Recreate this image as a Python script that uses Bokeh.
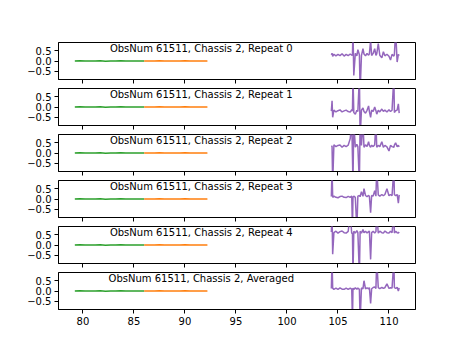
from bokeh.plotting import figure
from bokeh.layouts import column
from bokeh.models import Range1d, FixedTicker, Label
from bokeh.embed import file_html
from bokeh.resources import INLINE

# ---- data ----
green_x = [79.2, 79.7, 80.2, 80.7, 81.2, 81.7, 82.2, 82.7, 83.2, 83.7, 84.2, 84.7, 85.2, 85.7, 86.0]
green_y = [0.0, 0.01, -0.005, 0.005, 0.0, 0.01, -0.01, 0.005, 0.0, 0.008, -0.005, 0.005, 0.0, -0.005, 0.0]
orange_x = [86.0, 86.5, 87.0, 87.5, 88.0, 88.5, 89.0, 89.5, 90.0, 90.5, 91.0, 91.5, 92.0, 92.2]
orange_y = [0.0, 0.005, -0.005, 0.008, 0.0, -0.005, 0.005, 0.0, 0.008, -0.005, 0.0, 0.005, -0.005, 0.0]

purple_x = [104.35, 104.42, 104.48, 104.6, 104.8, 105.0, 105.2, 105.4, 105.6, 105.8,
            106.0, 106.2, 106.35, 106.42, 106.47, 106.55, 106.7, 106.85, 106.95, 107.1,
            107.17, 107.3, 107.45, 107.55, 107.7, 107.85, 108.0, 108.08, 108.2, 108.3,
            108.45, 108.6, 108.72, 108.8, 108.95, 109.1, 109.3, 109.45, 109.6, 109.8,
            110.0, 110.15, 110.3, 110.48, 110.53, 110.65, 110.8, 110.92, 111.0]

purple_y = [
    [0.3, 0.38, 0.22, 0.33, 0.25, 0.32, 0.26, 0.35, 0.24, 0.32,
     0.26, 0.34, 0.28, 0.3, 1.5, -0.7, 0.37, 0.25, 0.55, 0.3,
     -1.5, 0.26, 0.6, 0.34, 0.25, 0.37, 0.28, 0.35, 1.0, 0.27,
     0.37, 0.6, 0.27, 0.35, 0.85, 0.28, 0.15, 0.45, 0.25, 0.33,
     0.23, 0.05, 0.32, 0.24, 0.3, 1.5, -0.05, 0.32, 0.26],
    [-0.2, 0.3, -0.5, -0.15, -0.24, -0.18, -0.14, -0.24, -0.19, -0.15,
     -0.22, -0.25, -0.13, -0.2, 1.5, -0.27, -0.35, -0.16, -0.22, 1.5,
     -1.5, -0.16, -0.05, -0.22, -0.3, -0.16, 0.05, -0.22, -0.5, -0.15,
     -0.22, 0.0, -0.18, -0.35, -0.16, -0.24, -0.1, -0.21, -0.15, -0.24,
     -0.13, -0.22, -0.16, 1.5, -0.27, -0.18, -0.15, 0.15, -0.3],
    [0.35, 0.32, -1.5, 0.4, 0.31, 0.37, 0.39, 0.28, 0.37, 0.31,
     0.38, 0.7, 1.5, -0.2, -1.5, 1.5, 0.28, 0.42, 0.31, -1.5,
     1.5, 0.37, 1.5, 0.28, 0.4, 0.31, 0.55, 0.37, 0.28, 0.38,
     0.31, 0.4, 1.5, 0.28, 0.37, 0.31, 0.55, 0.28, 0.37, 0.3,
     0.1, 0.37, 0.31, 0.28, 0.38, 0.5, 0.31, 0.37, 0.3],
    [0.12, 1.5, 0.08, 0.14, 0.08, 0.06, 0.12, 0.14, 0.08, 0.07,
     0.13, 0.08, 0.14, -1.5, 0.08, 0.14, 0.08, -1.5, 0.14, 0.17,
     0.11, 0.35, 0.13, 0.5, 0.17, 0.11, 0.18, 0.12, -0.67, 0.17,
     0.15, 0.4, 0.14, 1.5, 0.2, 0.14, 0.22, 0.16, 0.22, 0.5,
     0.16, 0.22, 0.16, 1.5, 0.22, 0.16, 0.22, -0.2, 0.2],
    [0.63, 1.5, -0.45, 0.6, 0.67, 0.58, 0.65, 0.68, 0.6, 0.58,
     0.66, 1.5, 0.55, 0.6, -1.5, 0.67, 0.58, 0.7, 0.6, -1.5,
     0.67, 0.58, 0.75, 0.6, 0.67, 0.58, 0.65, 0.68, -0.7, 0.6,
     0.67, 0.58, 0.65, 1.5, 0.58, 0.67, 0.6, 0.58, 0.68, 0.6,
     0.58, 0.67, 0.6, 1.5, 0.58, 0.67, 0.6, 0.58, 0.63],
    [0.12, 1.5, 0.14, 0.08, 0.14, 0.08, 0.15, 0.09, 0.08, 0.14,
     0.08, 0.14, 0.09, -1.5, 0.14, 0.08, 0.15, 0.09, 0.14, 0.08,
     -1.5, 0.15, 0.1, 0.5, 0.1, 0.16, 0.1, 0.17, -0.6, 0.11,
     0.17, 0.2, 0.12, 1.5, 0.17, 0.12, 0.18, 0.13, 0.16, 0.35,
     0.13, 0.16, 0.14, 1.5, 0.17, 0.12, 0.18, 0.0, 0.15],
]

titles = ["ObsNum 61511, Chassis 2, Repeat 0",
          "ObsNum 61511, Chassis 2, Repeat 1",
          "ObsNum 61511, Chassis 2, Repeat 2",
          "ObsNum 61511, Chassis 2, Repeat 3",
          "ObsNum 61511, Chassis 2, Repeat 4",
          "ObsNum 61511, Chassis 2, Averaged"]

x_ticks = [80, 85, 90, 95, 100, 105, 110]
y_ticks = [-0.5, 0.0, 0.5]
y_tick_labels = {-0.5: "\u22120.5", 0: "0.0", 0.5: "0.5"}
title_x = 91.6
title_y = 0.6

FONT = "DejaVu Sans"
figs = []
n = len(titles)
for i in range(n):
    first = i == 0
    last = i == n - 1
    top = 42 if first else 0
    bottom = 37 if last else 9
    h = top + 37 + bottom
    p = figure(width=461, height=h, output_backend="svg", toolbar_location=None,
               x_range=Range1d(77.6, 112.6), y_range=Range1d(-0.9, 0.9),
               min_border_left=58, min_border_right=46,
               min_border_top=top, min_border_bottom=bottom)
    p.grid.visible = False
    p.outline_line_color = "black"
    p.outline_line_width = 1
    p.background_fill_color = "white"
    p.border_fill_color = "white"

    p.line(green_x, green_y, line_color="#2ca02c", line_width=1.5)
    p.line(orange_x, orange_y, line_color="#ff7f0e", line_width=1.5)
    p.line(purple_x, purple_y[i], line_color="#9467bd", line_width=1.5)

    p.add_layout(Label(x=title_x, y=title_y, text=titles[i], text_align="center",
                       text_baseline="alphabetic", text_font=FONT,
                       text_font_size="10px", text_color="black"))

    for ax in (p.xaxis[0], p.yaxis[0]):
        ax.axis_line_color = "black"
        ax.major_tick_line_color = "black"
        ax.major_tick_in = 0
        ax.major_tick_out = 4
        ax.minor_tick_line_color = None
        ax.major_label_text_font = FONT
        ax.major_label_text_font_size = "10px"
        ax.major_label_text_color = "black"
    p.xaxis.ticker = FixedTicker(ticks=x_ticks)
    p.yaxis.ticker = FixedTicker(ticks=y_ticks)
    p.yaxis.major_label_overrides = y_tick_labels
    p.yaxis.major_label_standoff = 3
    if last:
        p.xaxis.major_label_standoff = 3
    else:
        p.xaxis.major_label_overrides = {t: "" for t in x_ticks}
        p.xaxis.major_label_standoff = 0
    figs.append(p)

layout = column(*figs, spacing=0)
open("out.html", "w").write(file_html(layout, INLINE))
